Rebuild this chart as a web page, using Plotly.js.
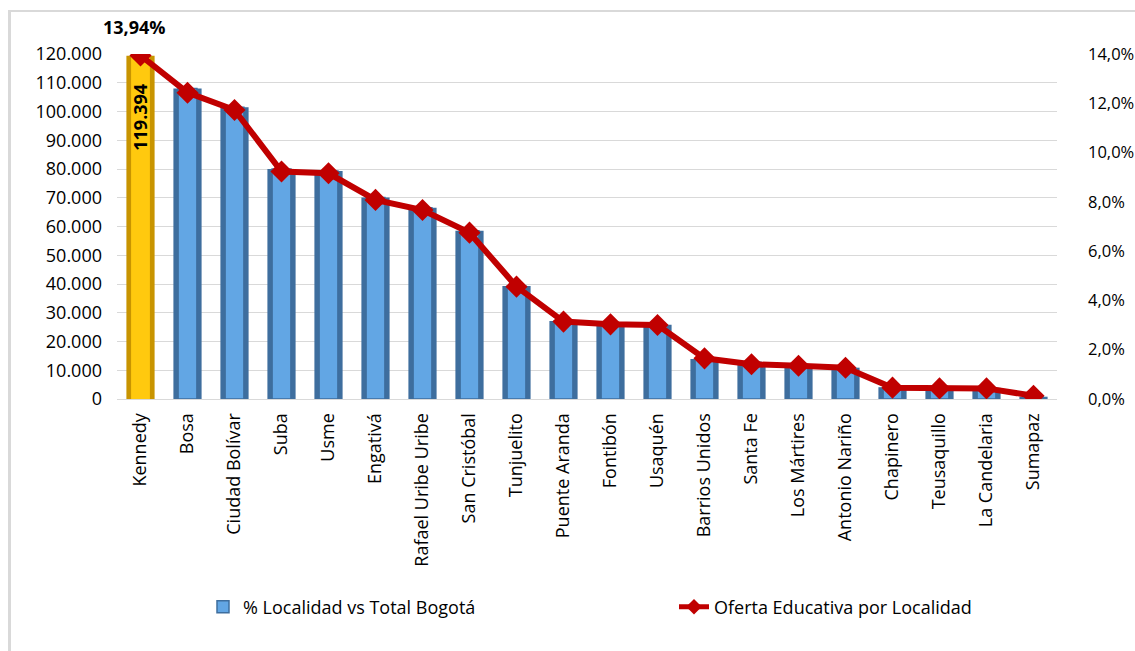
<!DOCTYPE html>
<html>
<head>
<meta charset="utf-8">
<script src="https://cdn.plot.ly/plotly-3.0.1.min.js"></script>
<style>
  html, body { margin:0; padding:0; background:#ffffff; }
  #frame { position:absolute; left:8px; top:10px; width:1140px; height:660px;
           border-left:3px solid #d9d9d9; border-top:2px solid #d9d9d9; box-sizing:border-box; }
  #chart { position:absolute; left:0; top:0; width:1135px; height:651px; }
</style>
</head>
<body>
<div id="frame"></div>
<div id="chart"></div>
<script>
const categories = ['Kennedy','Bosa','Ciudad Bolívar','Suba','Usme','Engativá','Rafael Uribe Uribe','San Cristóbal','Tunjuelito','Puente Aranda','Fontibón','Usaquén','Barrios Unidos','Santa Fe','Los Mártires','Antonio Nariño','Chapinero','Teusaquillo','La Candelaria','Sumapaz'];
const barValues = [119394,108000,101500,80000,79300,70100,66500,58500,39300,27100,26200,25800,13900,12800,12000,10900,4100,4000,3900,800];
const lineValues = [13.94,12.43,11.73,9.23,9.16,8.08,7.67,6.75,4.56,3.14,3.03,3.00,1.65,1.41,1.35,1.27,0.46,0.43,0.43,0.13];
const barName = '% Localidad vs Total Bogotá';
const lineName = 'Oferta Educativa por Localidad';
const barLabel = '119.394';
const lineLabel = '13,94%';

const FONT = 'Open Sans, sans-serif';
const ML = 117, MR = 78, MT = 54, MB = 252, W = 1135, H = 651;
const PW = W - ML - MR, PH = H - MT - MB;
const px2x = p => (p - ML) / PW;
const py2y = p => (H - MB - p) / PH;

const restCats = categories.slice(1);
const restVals = barValues.slice(1);

const traces = [
  { type:'bar', x:[categories[0]], y:[barValues[0]], name:barName,
    marker:{color:'#C89400', line:{width:0}}, width:0.6, showlegend:false, hoverinfo:'skip' },
  { type:'bar', x:[categories[0]], y:[barValues[0]], name:barName,
    marker:{color:'#FFC90E', line:{width:0}}, width:0.4, showlegend:false, hoverinfo:'skip' },
  { type:'bar', x:restCats, y:restVals, name:barName,
    marker:{color:'#3E6E9E', line:{width:0}}, width:0.6, showlegend:false, hoverinfo:'skip' },
  { type:'bar', x:restCats, y:restVals, name:barName, legend:'legend',
    marker:{color:'#62A6E4', line:{color:'#3E6E9E', width:1.5}}, width:0.4, showlegend:true, hoverinfo:'skip' },
  { type:'scatter', mode:'lines+markers', x:categories, y:lineValues, yaxis:'y2',
    name:lineName, legend:'legend2',
    line:{color:'#C00000', width:6},
    marker:{symbol:'diamond', size:17, color:'#C00000'} }
];

const layout = {
  width:W, height:H,
  margin:{l:ML, r:MR, t:MT, b:MB},
  paper_bgcolor:'rgba(0,0,0,0)', plot_bgcolor:'rgba(0,0,0,0)',
  separators:',.',
  font:{family:FONT, size:18, color:'#000000'},
  barmode:'overlay',
  xaxis:{
    type:'category', categoryorder:'array', categoryarray:categories,
    range:[-0.5, categories.length - 0.5], autorange:false,
    tickangle:-90, showgrid:false, zeroline:false,
    showline:true, linecolor:'#d9d9d9', linewidth:1,
    ticks:'', ticklabelstandoff:6,
    tickfont:{family:FONT, size:18, color:'#000'}
  },
  yaxis:{
    range:[0,120000], dtick:10000, tickformat:',.0f',
    showgrid:true, gridcolor:'#d9d9d9', gridwidth:1,
    zeroline:false, showline:false, ticks:'', ticklabelstandoff:14,
    tickfont:{family:FONT, size:18, color:'#000'}
  },
  yaxis2:{
    overlaying:'y', side:'right', range:[0,14], dtick:2,
    tickformat:'.1f', ticksuffix:'%', showgrid:false, zeroline:false,
    showline:false, ticks:'', ticklabelstandoff:30,
    tickfont:{family:FONT, size:16.5, color:'#000'}
  },
  legend:{
    orientation:'h', x:px2x(203), xanchor:'left', y:py2y(607), yanchor:'middle',
    font:{family:FONT, size:18, color:'#000'}, bgcolor:'rgba(0,0,0,0)'
  },
  legend2:{
    orientation:'h', x:px2x(674), xanchor:'left', y:py2y(607), yanchor:'middle',
    itemsizing:'constant',
    font:{family:FONT, size:18, color:'#000'}, bgcolor:'rgba(0,0,0,0)'
  },
  annotations:[
    { x:categories[0], y:barValues[0], xref:'x', yref:'y',
      text:'<b>' + barLabel + '</b>', showarrow:false, textangle:-90,
      yanchor:'top', yshift:-26, font:{family:FONT, size:18, color:'#000'} },
    { x:categories[0], y:lineValues[0], xref:'x', yref:'y2',
      text:'<b>' + lineLabel + '</b>', showarrow:false,
      yanchor:'bottom', yshift:14, xshift:-6, font:{family:FONT, size:18, color:'#000'} }
  ]
};

Plotly.newPlot('chart', traces, layout, {displayModeBar:false, staticPlot:true});
</script>
</body>
</html>
